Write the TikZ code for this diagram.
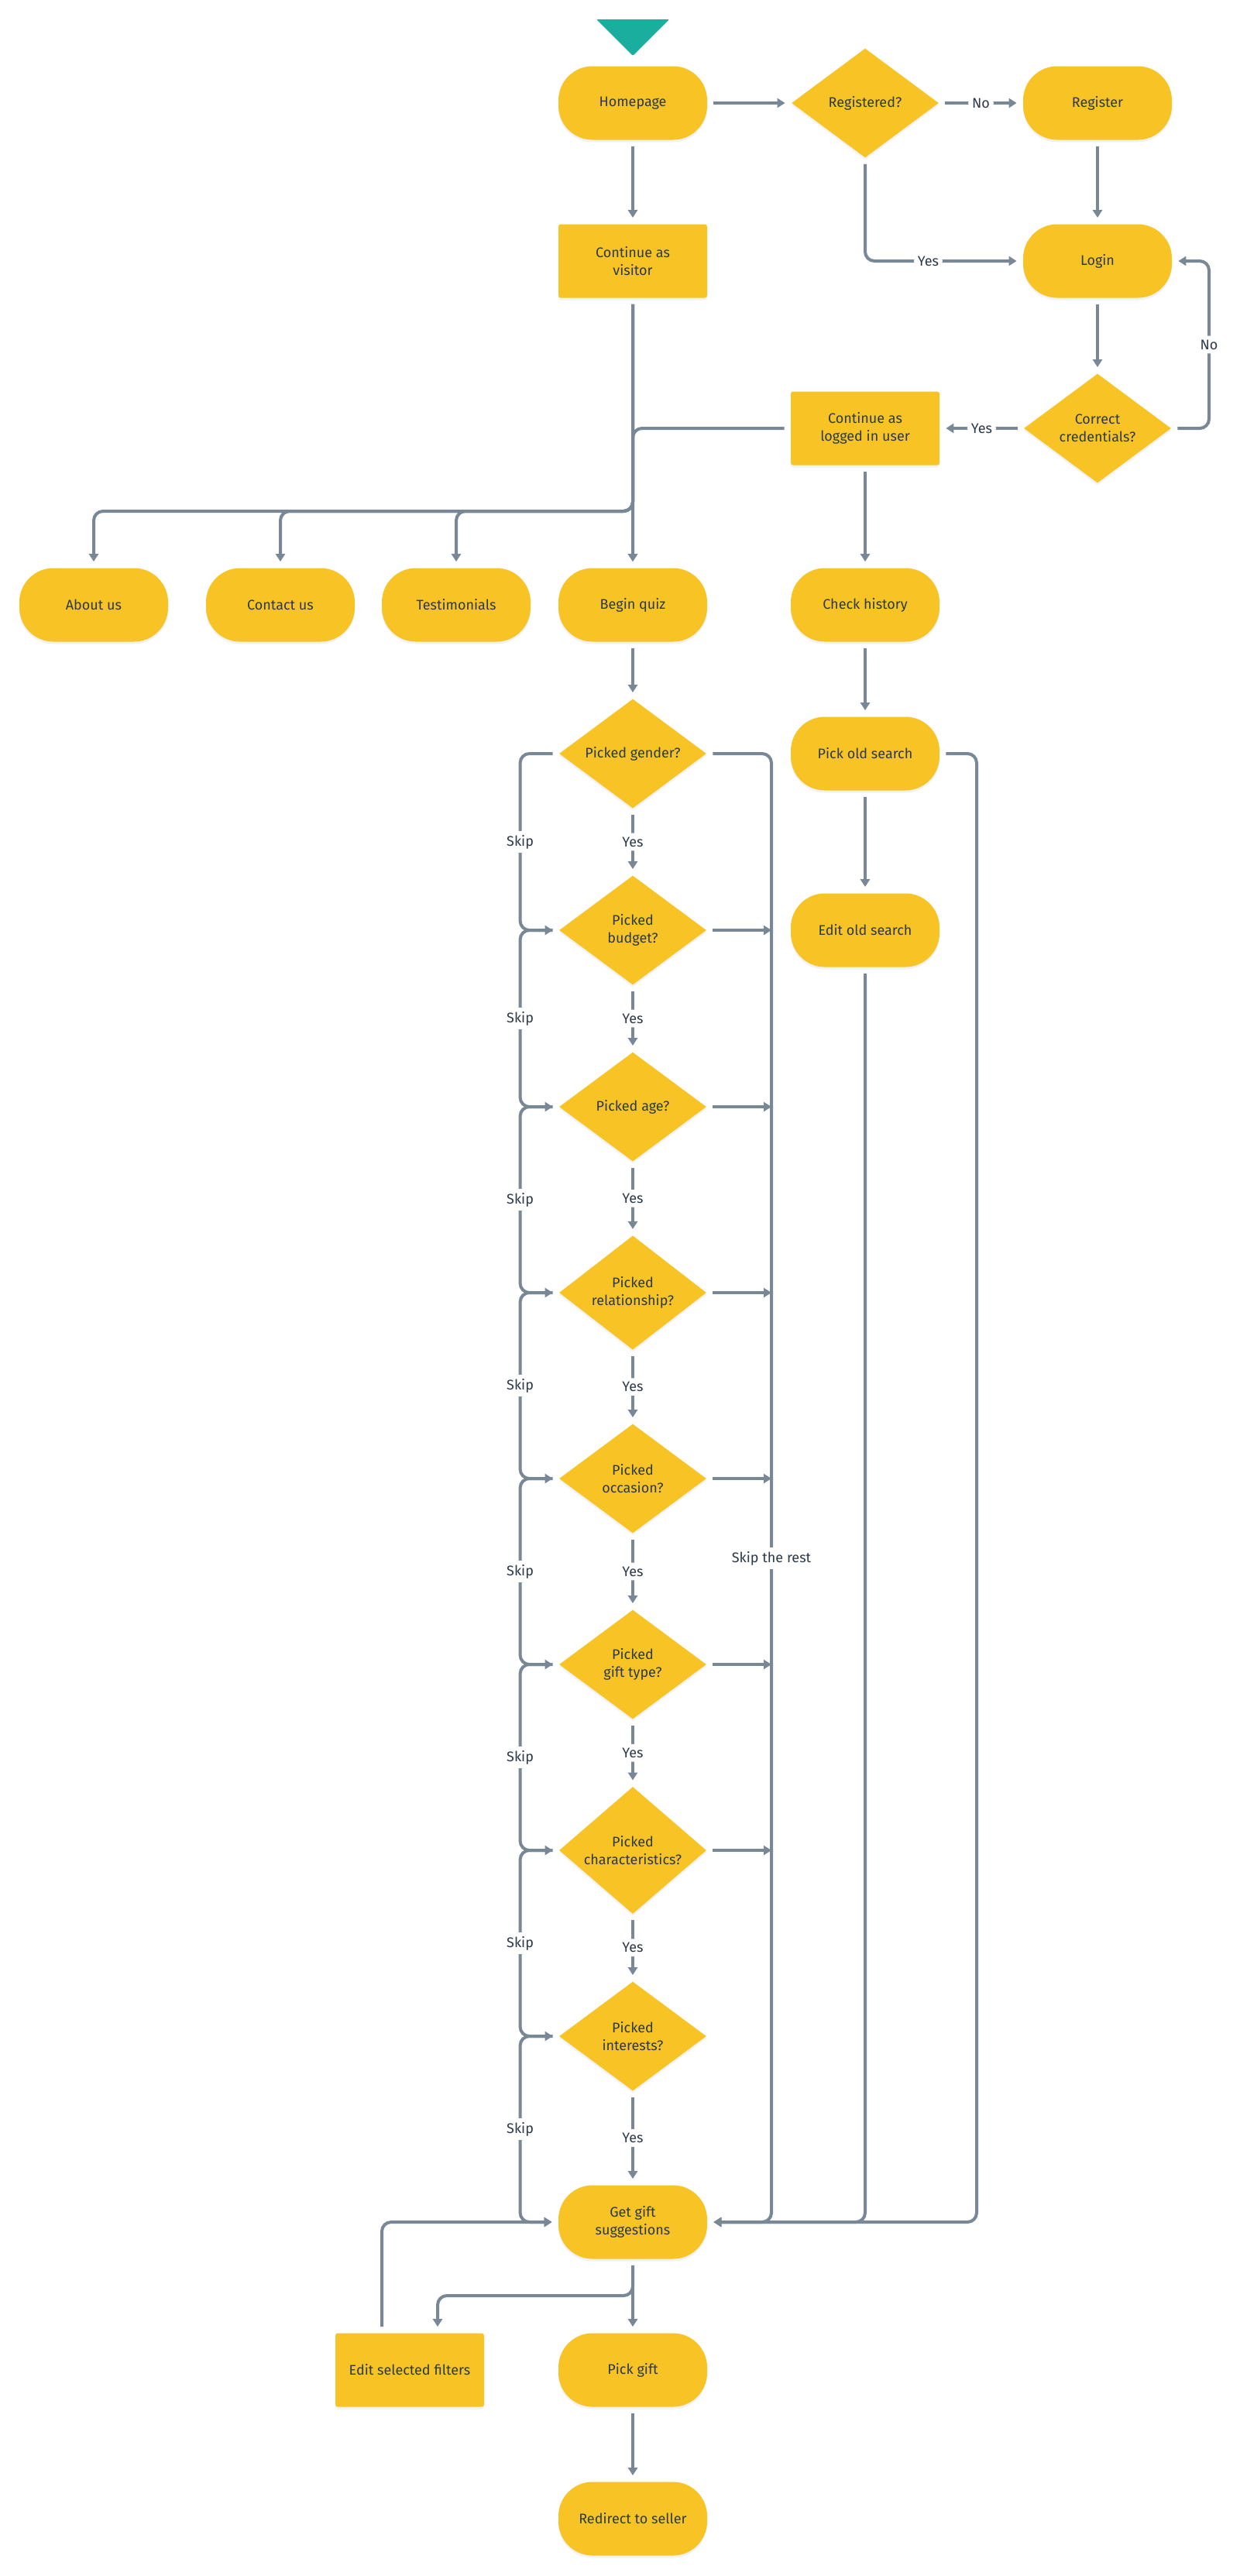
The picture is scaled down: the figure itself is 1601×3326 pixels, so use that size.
\documentclass[tikz,border=0pt]{standalone}
\usepackage{fontspec}
\setmainfont{Fira Sans}
\usetikzlibrary{arrows.meta, shapes.geometric, shadows}

\definecolor{flowyellow}{HTML}{F7C325}
\definecolor{flowteal}{HTML}{1AAE9F}
\definecolor{flowline}{HTML}{788896}
\definecolor{flowtext}{HTML}{2D3A4B}

\begin{document}
\begin{tikzpicture}[
    x=0.5pt, y=-0.5pt,
    base_style/.style={fill=flowyellow, text=flowtext, align=center, inner sep=2pt,
        font=\fontsize{9}{11.7}\selectfont,
        drop shadow={opacity=0.10, shadow xshift=0pt, shadow yshift=-1.5pt}},
    term_style/.style={base_style, rectangle, rounded corners=22pt, minimum width=96pt, minimum height=47.5pt},
    proc_style/.style={base_style, rectangle, rounded corners=1.5pt, minimum width=96pt, minimum height=47.5pt},
    dec_style/.style={base_style, diamond, inner sep=0pt, minimum width=95pt, minimum height=70.5pt},
    flow_style/.style={draw=flowline, line width=2pt, rounded corners=6pt,
        -{Triangle[length=5pt, width=6pt]}, shorten <=4pt, shorten >=4pt},
    join_style/.style={flow_style, shorten >=0pt},
    label_style/.style={fill=white, text=flowtext, font=\fontsize{9}{11}\selectfont, inner sep=2.5pt}
]

    % Page
    \fill[white] (0,0) rectangle (1601,3326);
    \useasboundingbox (0,0) rectangle (1601,3326);

    % Start marker
    \fill[flowteal, rounded corners=1pt] (770,25) -- (864,25) -- (817,72) -- cycle;

    % Entry and login
    \node[term_style] (home) at (817,133) {Homepage};
    \node[dec_style] (regq) at (1117,133) {Registered?};
    \node[term_style] (reg) at (1417,133) {Register};
    \node[proc_style] (visitor) at (817,337) {Continue as\\visitor};
    \node[term_style] (login) at (1417,337) {Login};
    \node[dec_style] (credq) at (1417,553) {Correct\\credentials?};
    \node[proc_style] (loggedin) at (1117,553) {Continue as\\logged in user};

    % Menu row
    \node[term_style] (about) at (121,781) {About us};
    \node[term_style] (contact) at (362,781) {Contact us};
    \node[term_style] (testi) at (589,781) {Testimonials};
    \node[term_style] (quiz) at (817,781) {Begin quiz};
    \node[term_style] (history) at (1117,781) {Check history};

    % History branch
    \node[term_style] (oldpick) at (1117,973) {Pick old search};
    \node[term_style] (oldedit) at (1117,1201) {Edit old search};

    % Quiz questions
    \node[dec_style] (q_gender) at (817,973) {Picked gender?};
    \node[dec_style] (q_budget) at (817,1201) {Picked\\budget?};
    \node[dec_style] (q_age) at (817,1429) {Picked age?};
    \node[dec_style] (q_relation) at (817,1669) {Picked\\relationship?};
    \node[dec_style] (q_occasion) at (817,1909) {Picked\\occasion?};
    \node[dec_style] (q_type) at (817,2149) {Picked\\gift type?};
    \node[dec_style] (q_traits) at (817,2389) {Picked\\characteristics?};
    \node[dec_style] (q_interests) at (817,2629) {Picked\\interests?};

    % Results
    \node[term_style] (suggest) at (817,2869) {Get gift\\suggestions};
    \node[proc_style] (filters) at (529,3060) {Edit selected filters};
    \node[term_style] (pickgift) at (817,3060) {Pick gift};
    \node[term_style] (seller) at (817,3252) {Redirect to seller};

    % Rails
    \coordinate (no_rail) at (1561,553);
    \coordinate (menu_bus) at (817,660);
    \coordinate (pick_rail) at (1261,973);
    \coordinate (rest_rail) at (996,973);
    \coordinate (filter_fork) at (817,2964);

    % Login flow
    \draw[flow_style] (home) -- (regq);
    \draw[flow_style] (regq) -- node[label_style] {No} (reg);
    \draw[flow_style] (regq) |- node[label_style, pos=0.7] {Yes} (login);
    \draw[flow_style] (reg) -- (login);
    \draw[flow_style] (login) -- (credq);
    \draw[flow_style] (credq) -- node[label_style] {Yes} (loggedin);
    \draw[flow_style] (credq) -- (no_rail) |- node[label_style, pos=0.25] {No} (login);

    % Visitor and menu
    \draw[flow_style] (home) -- (visitor);
    \draw[flow_style] (visitor) -- (quiz);
    \draw[flow_style] (loggedin) -| (quiz);
    \draw[flow_style] (visitor) -- (menu_bus) -| (about);
    \draw[flow_style] (visitor) -- (menu_bus) -| (contact);
    \draw[flow_style] (visitor) -- (menu_bus) -| (testi);

    % History
    \draw[flow_style] (loggedin) -- (history);
    \draw[flow_style] (history) -- (oldpick);
    \draw[flow_style] (oldpick) -- (oldedit);
    \draw[flow_style] (oldedit) |- (suggest);
    \draw[flow_style] (oldpick) -- (pick_rail) |- (suggest);

    % Quiz, answered
    \draw[flow_style] (quiz) -- (q_gender);
    \draw[flow_style] (q_gender) -- node[label_style] {Yes} (q_budget);
    \draw[flow_style] (q_budget) -- node[label_style] {Yes} (q_age);
    \draw[flow_style] (q_age) -- node[label_style] {Yes} (q_relation);
    \draw[flow_style] (q_relation) -- node[label_style] {Yes} (q_occasion);
    \draw[flow_style] (q_occasion) -- node[label_style] {Yes} (q_type);
    \draw[flow_style] (q_type) -- node[label_style] {Yes} (q_traits);
    \draw[flow_style] (q_traits) -- node[label_style] {Yes} (q_interests);
    \draw[flow_style] (q_interests) -- node[label_style] {Yes} (suggest);

    % Quiz, skipped
    \draw[flow_style] (q_gender.west) -- ++(-50,0) |- node[label_style, pos=0.25] {Skip} (q_budget.west);
    \draw[flow_style] (q_budget.west) -- ++(-50,0) |- node[label_style, pos=0.25] {Skip} (q_age.west);
    \draw[flow_style] (q_age.west) -- ++(-50,0) |- node[label_style, pos=0.25] {Skip} (q_relation.west);
    \draw[flow_style] (q_relation.west) -- ++(-50,0) |- node[label_style, pos=0.25] {Skip} (q_occasion.west);
    \draw[flow_style] (q_occasion.west) -- ++(-50,0) |- node[label_style, pos=0.25] {Skip} (q_type.west);
    \draw[flow_style] (q_type.west) -- ++(-50,0) |- node[label_style, pos=0.25] {Skip} (q_traits.west);
    \draw[flow_style] (q_traits.west) -- ++(-50,0) |- node[label_style, pos=0.25] {Skip} (q_interests.west);
    \draw[flow_style] (q_interests.west) -- ++(-50,0) |- node[label_style, pos=0.25] {Skip} (suggest.west);

    % Skip the rest
    \draw[flow_style] (q_gender) -- (rest_rail) |- node[label_style, pos=0.274] {Skip the rest} (suggest);
    \draw[join_style] (q_budget) -- (q_budget -| rest_rail);
    \draw[join_style] (q_age) -- (q_age -| rest_rail);
    \draw[join_style] (q_relation) -- (q_relation -| rest_rail);
    \draw[join_style] (q_occasion) -- (q_occasion -| rest_rail);
    \draw[join_style] (q_type) -- (q_type -| rest_rail);
    \draw[join_style] (q_traits) -- (q_traits -| rest_rail);

    % Results
    \draw[flow_style] (suggest) -- (pickgift);
    \draw[flow_style] (pickgift) -- (seller);
    \draw[flow_style] (suggest) -- (filter_fork) -| ([xshift=18pt]filters.north);
    \draw[flow_style] ([xshift=-18pt]filters.north) |- (suggest);

\end{tikzpicture}
\end{document}
